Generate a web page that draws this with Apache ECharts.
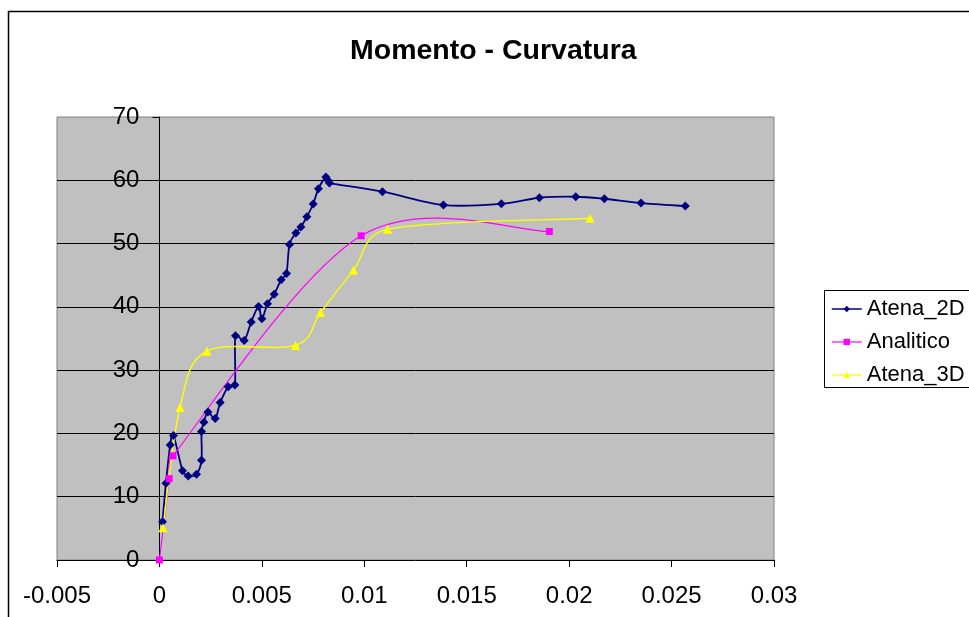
<!DOCTYPE html>
<html>
<head>
<meta charset="utf-8">
<script src="https://cdn.jsdelivr.net/npm/echarts@6/dist/echarts.min.js"></script>
<style>
  html, body { margin: 0; padding: 0; background: #fff; }
  #chart { width: 969px; height: 617px; }
</style>
</head>
<body>
<div id="chart"></div>
<script>
// Moment–curvature results: [curvature, moment]
const atena2D = [
  [0.000151, 6.06], [0.000317, 12.13], [0.000527, 18.18], [0.000688, 19.66],
  [0.001127, 14.12], [0.001405, 13.28], [0.00181, 13.55], [0.002054, 15.77],
  [0.002054, 20.29], [0.002171, 21.77], [0.002367, 23.40], [0.002723, 22.34],
  [0.002967, 24.87], [0.003357, 27.36], [0.003684, 27.67], [0.003713, 35.42],
  [0.004138, 34.68], [0.004479, 37.59], [0.004836, 40.05], [0.005001, 38.11],
  [0.005275, 40.48], [0.005602, 42.01], [0.005943, 44.28], [0.006202, 45.27],
  [0.006348, 49.86], [0.00666, 51.66], [0.006904, 52.61], [0.007197, 54.24],
  [0.007505, 56.25], [0.007763, 58.67], [0.008124, 60.52], [0.008202, 60.09],
  [0.0083, 59.57], [0.010886, 58.19], [0.013863, 56.09], [0.016693, 56.29],
  [0.018547, 57.24], [0.020323, 57.40], [0.021719, 57.08], [0.023509, 56.40],
  [0.025671, 55.93]
];
const analitico = [
  [0, 0], [0.000478, 12.86], [0.000659, 16.45], [0.009847, 51.23], [0.019035, 51.91]
];
const atena3D = [
  [0.000171, 5.1], [0.001, 24.1], [0.002318, 33.0], [0.006641, 33.9],
  [0.007861, 39.1], [0.009471, 45.8], [0.01113, 52.25], [0.02102, 54.0]
];
const seriesNames = ['Atena_2D', 'Analitico', 'Atena_3D'];
const seriesColors = ['#000080', '#ff00ff', '#ffff00'];
const xTicks = [-0.005, 0, 0.005, 0.01, 0.015, 0.02, 0.025, 0.03];
const yTicks = [0, 10, 20, 30, 40, 50, 60, 70];

const chart = echarts.init(document.getElementById('chart'), null, { renderer: 'canvas' });
const font = '"Liberation Sans", Arial, sans-serif';

const gridLeft = 57, gridRight = 195;
const plotWidth = 969 - gridLeft - gridRight;
// the value axis crosses at curvature 0
const yAxisShift = plotWidth * (0 - xTicks[0]) / (xTicks[xTicks.length - 1] - xTicks[0]);

// Smoothed connecting line (Catmull-Rom style Bezier segments, tangent = (next - prev) / 6,
// control arms limited to half of the segment length), built in pixel space via the axes.
function smoothCurve(name, points, color, width) {
  return {
    type: 'custom',
    name: name,
    silent: true,
    data: [[0, 0]],
    z: 2,
    renderItem: function (params, api) {
      const p = points.map(d => api.coord(d));
      const children = [];
      const limit = (arm, maxLen) => {
        const len = Math.hypot(arm[0], arm[1]);
        return len > maxLen && len > 0 ? [arm[0] * maxLen / len, arm[1] * maxLen / len] : arm;
      };
      for (let i = 0; i < p.length - 1; i++) {
        const p0 = p[i - 1] || p[i];
        const p1 = p[i];
        const p2 = p[i + 1];
        const p3 = p[i + 2] || p[i + 1];
        const half = Math.hypot(p2[0] - p1[0], p2[1] - p1[1]) / 2;
        const a1 = limit([(p2[0] - p0[0]) / 6, (p2[1] - p0[1]) / 6], half);
        const a2 = limit([(p3[0] - p1[0]) / 6, (p3[1] - p1[1]) / 6], half);
        children.push({
          type: 'bezierCurve',
          shape: {
            x1: p1[0], y1: p1[1],
            cpx1: p1[0] + a1[0], cpy1: p1[1] + a1[1],
            cpx2: p2[0] - a2[0], cpy2: p2[1] - a2[1],
            x2: p2[0], y2: p2[1]
          },
          style: { stroke: color, lineWidth: width, fill: 'none' }
        });
      }
      return { type: 'group', children: children };
    }
  };
}

function markerSeries(name, points, symbol, size, color) {
  return {
    name: name, type: 'line', data: points, z: 3,
    symbol: symbol, symbolSize: size,
    itemStyle: { color: color },
    lineStyle: { color: color, opacity: 0 }
  };
}

chart.setOption({
  animation: false,
  backgroundColor: '#ffffff',
  title: {
    text: 'Momento - Curvatura',
    left: 350,
    top: 37,
    padding: 0,
    textStyle: { fontFamily: font, fontSize: 28.5, fontWeight: 'bold', color: '#000' }
  },
  graphic: [
    { type: 'rect', silent: true, z: -1,
      shape: { x: 8.5, y: 11.5, width: 1200, height: 900 },
      style: { fill: 'none', stroke: '#000', lineWidth: 1.5 } },
    { type: 'rect', silent: true,
      shape: { x: 824.5, y: 290.5, width: 300, height: 97 },
      style: { fill: '#fff', stroke: '#000', lineWidth: 1 } }
  ],
  legend: {
    orient: 'vertical',
    left: 831,
    top: 298,
    padding: 0,
    itemGap: 11,
    itemWidth: 30,
    itemHeight: 8,
    z: 10,
    data: [
      { name: seriesNames[0], lineStyle: { opacity: 1, width: 1.5 } },
      { name: seriesNames[1], lineStyle: { opacity: 1, width: 1.2 } },
      { name: seriesNames[2], lineStyle: { opacity: 1, width: 1.4 } }
    ],
    textStyle: { fontFamily: font, fontSize: 22, color: '#000', lineHeight: 22 }
  },
  grid: {
    left: gridLeft, right: gridRight, top: 117, bottom: 57,
    show: true,
    backgroundColor: '#c0c0c0',
    borderColor: '#808080',
    borderWidth: 1
  },
  xAxis: {
    type: 'value',
    min: xTicks[0],
    max: xTicks[xTicks.length - 1],
    interval: 0.005,
    axisLine: { show: true, onZero: false, lineStyle: { color: '#000', width: 1 } },
    axisTick: { show: true, length: 7, lineStyle: { color: '#000' } },
    axisLabel: {
      margin: 24,
      fontFamily: font, fontSize: 24, color: '#000',
      formatter: v => String(+v.toFixed(3))
    },
    splitLine: { show: false }
  },
  yAxis: {
    type: 'value',
    min: yTicks[0],
    max: yTicks[yTicks.length - 1],
    interval: 10,
    offset: -yAxisShift,
    axisLine: { show: true, onZero: false, lineStyle: { color: '#000', width: 1 } },
    axisTick: { show: true, length: 7, lineStyle: { color: '#000' } },
    axisLabel: { margin: 20, fontFamily: font, fontSize: 24, color: '#000' },
    splitLine: { show: true, showMinLine: false, showMaxLine: false, lineStyle: { color: '#000', width: 1 } }
  },
  series: [
    smoothCurve('Atena_2D curve', atena2D, seriesColors[0], 1.8),
    markerSeries(seriesNames[0], atena2D, 'diamond', 9, seriesColors[0]),
    smoothCurve('Analitico curve', analitico, seriesColors[1], 1.2),
    markerSeries(seriesNames[1], analitico, 'rect', 7, seriesColors[1]),
    smoothCurve('Atena_3D curve', atena3D, seriesColors[2], 1.4),
    markerSeries(seriesNames[2], atena3D, 'triangle', 9, seriesColors[2])
  ]
});
</script>
</body>
</html>
